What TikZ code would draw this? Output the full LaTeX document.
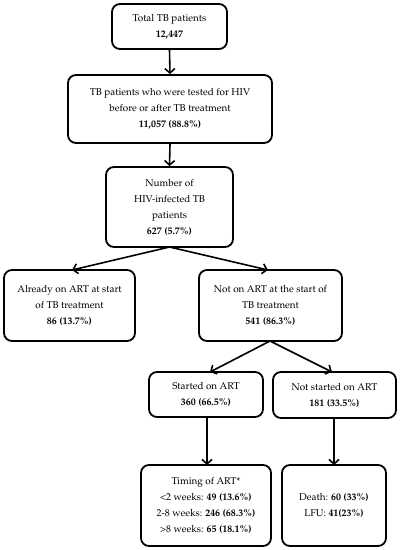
\documentclass[tikz,border=0pt]{standalone}
\usepackage[T1]{fontenc}
\usepackage{mathpazo}
\usetikzlibrary{arrows.meta}
\tikzset{
  box/.style={draw=black, line width=1.8pt, rounded corners=8pt, align=center,
    inner sep=2pt, font=\fontsize{9.9}{16}\selectfont},
  conn/.style={line width=1.6pt, -{Straight Barb[length=4.5pt,width=10pt,line width=1.6pt]}}
}
\begin{document}
\begin{tikzpicture}[x=1pt,y=-1pt]
\useasboundingbox (0,0) rectangle (400,550);
\node[box, minimum width=115pt, minimum height=45pt] (b1) at (169.5,26.5)
  {Total TB patients\\ \textbf{12,447}};
\node[box, minimum width=204pt, minimum height=68pt] (b2) at (170,109)
  {TB patients who were tested for HIV\\ before or after TB treatment\\ \textbf{11,057 (88.8\%)}};
\node[box, minimum width=127pt, minimum height=80pt] (b3) at (169.5,207)
  {Number of\\ HIV-infected TB\\ patients\\ \textbf{627 (5.7\%)}};
\node[box, minimum width=131pt, minimum height=71pt] (b4) at (69.5,305.5)
  {Already on ART at start\\ of TB treatment\\ \textbf{86 (13.7\%)}};
\node[box, minimum width=143pt, minimum height=71pt] (b5) at (270.5,305.5)
  {Not on ART at the start of\\ TB treatment\\ \textbf{541 (86.3\%)}};
\node[box, minimum width=114pt, minimum height=45pt] (b6) at (206,394.5)
  {Started on ART\\ \textbf{360 (66.5\%)}};
\node[box, minimum width=123pt, minimum height=46pt] (b7) at (334.5,395)
  {Not started on ART\\ \textbf{181 (33.5\%)}};
\node[box, minimum width=130pt, minimum height=81pt] (b8) at (206,505.5)
  {Timing of ART*\\ {<}2 weeks: \textbf{49 (13.6\%)}\\ 2-8 weeks: \textbf{246 (68.3\%)}\\ {>}8 weeks: \textbf{65 (18.1\%)}};
\node[box, minimum width=104pt, minimum height=81pt] (b9) at (334,505.5)
  {Death: \textbf{60 (33\%)}\\ LFU: \textbf{41(23\%)}};
\draw[conn] (b1.south) -- (b2.north);
\draw[conn] (b2.south) -- (b3.north);
\coordinate (s3) at (169.5,247);
\draw[conn] (s3) -- (72,270) coordinate (e4);
\draw[conn] (s3) -- (268,270) coordinate (e5);
\coordinate (s5) at (270,341);
\draw[conn] (s5) -- (210,372) coordinate (e6);
\draw[conn] (s5) -- (332,372) coordinate (e7);
\draw[conn] (207,417) coordinate (s6) -- (207,465) coordinate (e8);
\draw[conn] (334,418) coordinate (s7) -- (334,465) coordinate (e9);
\end{tikzpicture}
\end{document}
